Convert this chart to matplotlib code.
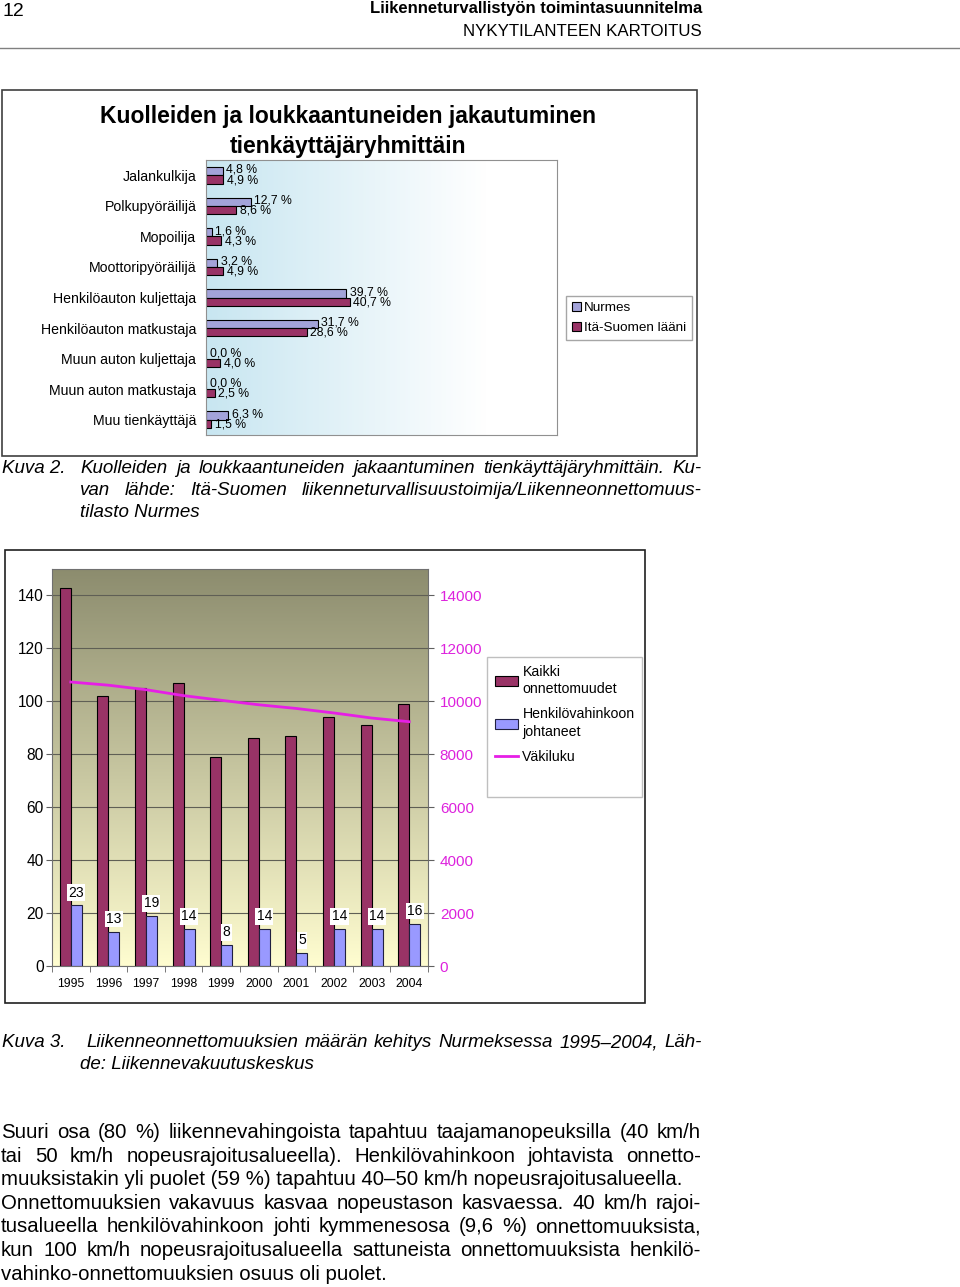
import numpy as np
import matplotlib
matplotlib.use("Agg")
import matplotlib.pyplot as plt
from matplotlib.patches import Rectangle, Patch
from matplotlib.lines import Line2D

plt.rcParams['font.family'] = ['Liberation Sans', 'DejaVu Sans']

# chart 1 data
groups = ['Jalankulkija', 'Polkupyöräilijä', 'Mopoilija', 'Moottoripyöräilijä',
          'Henkilöauton kuljettaja', 'Henkilöauton matkustaja', 'Muun auton kuljettaja',
          'Muun auton matkustaja', 'Muu tienkäyttäjä']
nurmes = [4.8, 12.7, 1.6, 3.2, 39.7, 31.7, 0.0, 0.0, 6.3]
ita_suomi = [4.9, 8.6, 4.3, 4.9, 40.7, 28.6, 4.0, 2.5, 1.5]

# chart 2 data
years = ['1995', '1996', '1997', '1998', '1999', '2000', '2001', '2002', '2003', '2004']
kaikki = [143, 102, 105, 107, 79, 86, 87, 94, 91, 99]
henkilo = [23, 13, 19, 14, 8, 14, 5, 14, 14, 16]
vakiluku = [10730, 10610, 10440, 10215, 10040, 9870, 9730, 9560, 9370, 9230]

W, H = 960, 1287
fig = plt.figure(figsize=(W / 100, H / 100), dpi=100)
renderer = fig.canvas.get_renderer()


def fx(x):
    return x / W


def fy(y):
    return 1 - y / H


def line_text(s, x0, x1, y, justify, **kw):
    if not justify:
        fig.text(fx(x0), fy(y), s, va='baseline', **kw)
        return
    words = s.split(' ')
    texts = [fig.text(0, fy(y), w, va='baseline', **kw) for w in words]
    widths = [t.get_window_extent(renderer).width for t in texts]
    gap = (x1 - x0 - sum(widths)) / (len(words) - 1)
    x = x0
    for t, w in zip(texts, widths):
        t.set_x(fx(x))
        x += w + gap


# page header
fig.text(fx(2), fy(16), '12', fontsize=14, va='baseline')
fig.text(fx(702), fy(13), 'Liikenneturvallistyön toimintasuunnitelma', fontsize=12,
         fontweight='bold', ha='right', va='baseline')
fig.text(fx(702), fy(36), 'NYKYTILANTEEN KARTOITUS', fontsize=12.2, ha='right', va='baseline')
fig.add_artist(Line2D([0, 1], [fy(48), fy(48)], color='#808080', lw=1))

# ---------- chart 1 ----------
fig.add_artist(Rectangle((fx(2), fy(456)), fx(695), 366 / H, fill=False,
                         edgecolor='#404040', lw=1.2))
fig.text(fx(348), fy(123), 'Kuolleiden ja loukkaantuneiden jakautuminen', fontsize=16.5,
         fontweight='bold', ha='center', va='baseline')
fig.text(fx(348), fy(153), 'tienkäyttäjäryhmittäin', fontsize=16.5,
         fontweight='bold', ha='center', va='baseline')

ax1 = fig.add_axes([fx(206), fy(435), 351 / W, 275 / H])
grad = np.ones((1, 256, 3))
t = np.clip(np.linspace(0, 1, 256) / 0.8, 0, 1)
c0 = np.array([200, 230, 241]) / 255
for k in range(3):
    grad[0, :, k] = c0[k] + (1 - c0[k]) * t
ax1.imshow(grad, extent=(0, 1, 0, 1), transform=ax1.transAxes, aspect='auto', zorder=0)

pos = np.arange(len(groups))
bh = 0.27
ax1.barh(pos - bh / 2, nurmes, height=bh, color='#a3a3d9', edgecolor='black', lw=0.8,
         label='Nurmes', zorder=2)
ax1.barh(pos + bh / 2, ita_suomi, height=bh, color='#993366', edgecolor='black', lw=0.8,
         label='Itä-Suomen lääni', zorder=2)
for i in range(len(groups)):
    ax1.text(nurmes[i] + 1.0, pos[i] - bh / 2 - 0.04, f'{nurmes[i]:.1f} %'.replace('.', ','),
             fontsize=8.8, va='center', ha='left', zorder=3)
    ax1.text(ita_suomi[i] + 1.0, pos[i] + bh / 2 + 0.02, f'{ita_suomi[i]:.1f} %'.replace('.', ','),
             fontsize=8.8, va='center', ha='left', zorder=3)
ax1.set_xlim(0, 99.5)
ax1.set_ylim(len(groups) - 0.5, -0.5)
ax1.set_xticks([])
ax1.set_yticks(pos, groups, fontsize=10.2)
ax1.tick_params(axis='y', length=0, pad=7)
for s in ax1.spines.values():
    s.set_color('#909090')
ax1.legend(loc='upper left', bbox_to_anchor=(fx(566), fy(296)), bbox_transform=fig.transFigure,
           fontsize=9.7, frameon=True, fancybox=False, edgecolor='#909090',
           handlelength=0.65, handleheight=0.65, handletextpad=0.2, borderpad=0.45,
           labelspacing=0.55, borderaxespad=0)

# caption 2
cap = dict(fontsize=13.5, style='italic')
fig.text(fx(2), fy(473), 'Kuva 2.', va='baseline', **cap)
line_text('Kuolleiden ja loukkaantuneiden jakaantuminen tienkäyttäjäryhmittäin. Ku-',
          80, 702, 473, True, **cap)
line_text('van lähde: Itä-Suomen liikenneturvallisuustoimija/Liikenneonnettomuus-',
          80, 702, 495, True, **cap)
line_text('tilasto Nurmes', 80, 702, 517, False, **cap)

# ---------- chart 2 ----------
fig.add_artist(Rectangle((fx(5), fy(1003)), fx(640), 453 / H, fill=False,
                         edgecolor='#202020', lw=1.2))
ax2 = fig.add_axes([fx(52), fy(966), 376 / W, 397 / H])
vgrad = np.ones((256, 1, 3))
top = np.array([140, 140, 110]) / 255
bot = np.array([255, 253, 208]) / 255
s = np.linspace(0, 1, 256)
for k in range(3):
    vgrad[:, 0, k] = top[k] + (bot[k] - top[k]) * s
ax2.imshow(vgrad, extent=(0, 1, 0, 1), transform=ax2.transAxes, aspect='auto', zorder=0)

x = np.arange(len(years))
bw = 0.29
ax2.bar(x - bw / 2, kaikki, width=bw, color='#993366', edgecolor='black', lw=0.8,
        label='Kaikki\nonnettomuudet', zorder=2)
ax2.bar(x + bw / 2, henkilo, width=bw, color='#9999ff', edgecolor='#202040', lw=0.8,
        label='Henkilövahinkoon\njohtaneet', zorder=2)
for i in range(len(years)):
    ax2.annotate(str(henkilo[i]), (x[i] + bw / 2, henkilo[i]), xytext=(0, 4),
                 textcoords='offset points', ha='center', va='bottom', fontsize=10,
                 bbox=dict(facecolor='white', edgecolor='none', pad=1), zorder=4)
ax2.set_xlim(-0.5, len(years) - 0.5)
ax2.set_ylim(0, 150)
ax2.set_yticks(range(0, 141, 20))
ax2.tick_params(axis='y', labelsize=11.2, length=4, color='#606060', pad=2)
ax2.grid(axis='y', color='#5f5f55', lw=0.8, zorder=1)
ax2.set_axisbelow(True)
ax2.set_xticks(x, years)
ax2.tick_params(axis='x', which='major', length=0, labelsize=8.8, pad=8.5)
ax2.set_xticks(np.arange(-0.5, len(years), 1), minor=True)
ax2.tick_params(axis='x', which='minor', length=4, color='#606060')
for sp in ax2.spines.values():
    sp.set_color('#707070')
    sp.set_linewidth(0.8)

ax3 = ax2.twinx()
ax3.plot(x, vakiluku, color='#e61ee6', lw=2, label='Väkiluku', zorder=3)
ax3.set_ylim(0, 15000)
ax3.set_yticks(range(0, 14001, 2000))
ax3.tick_params(axis='y', labelsize=11, labelcolor='#dd22dd', length=4, color='#606060', pad=4.5)
for sp in ax3.spines.values():
    sp.set_visible(False)

h1, l1 = ax2.get_legend_handles_labels()
h2, l2 = ax3.get_legend_handles_labels()
blank = Patch(visible=False)
leg = ax3.legend(h1 + h2 + [blank], l1 + l2 + [' '], loc='upper left',
                 bbox_to_anchor=(fx(487), fy(657)), bbox_transform=fig.transFigure,
                 fontsize=10.2, frameon=True, fancybox=False, edgecolor='#b0b0b0',
                 handlelength=1.65, handleheight=0.7, handletextpad=0.3, borderpad=0.55,
                 labelspacing=0.8, borderaxespad=0)
for txt in leg.get_texts():
    txt.set_linespacing(1.3)

# caption 3
fig.text(fx(2), fy(1047), 'Kuva 3.', va='baseline', **cap)
line_text('Liikenneonnettomuuksien määrän kehitys Nurmeksessa 1995–2004, Läh-',
          86, 702, 1047, True, **cap)
line_text('de: Liikennevakuutuskeskus', 80, 702, 1069, False, **cap)

# paragraph
para = [
    ('Suuri osa (80 %) liikennevahingoista tapahtuu taajamanopeuksilla (40 km/h', True),
    ('tai 50 km/h nopeusrajoitusalueella). Henkilövahinkoon johtavista onnetto-', True),
    ('muuksistakin yli puolet (59 %) tapahtuu 40–50 km/h nopeusrajoitusalueella.', False),
    ('Onnettomuuksien vakavuus kasvaa nopeustason kasvaessa. 40 km/h rajoi-', True),
    ('tusalueella henkilövahinkoon johti kymmenesosa (9,6 %) onnettomuuksista,', True),
    ('kun 100 km/h nopeusrajoitusalueella sattuneista onnettomuuksista henkilö-', True),
    ('vahinko-onnettomuuksien osuus oli puolet.', False),
]
for k, (txt, just) in enumerate(para):
    line_text(txt, 1, 701, 1138 + k * 23.6, just, fontsize=14.7)

fig.savefig('out.png', dpi=100)
